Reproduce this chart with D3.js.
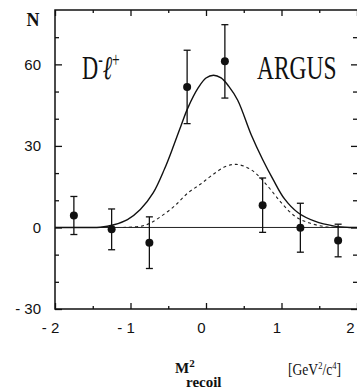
<!DOCTYPE html>
<html>
<head>
<meta charset="utf-8">
<script src="https://cdn.jsdelivr.net/npm/d3@7"></script>
<style>
  body { margin: 0; background: #fff; }
  svg { display: block; }
  .tick text { font-family: 'Liberation Sans', sans-serif; font-size: 15px; fill: #111; }
  .serif { font-family: 'Liberation Serif', 'DejaVu Serif', serif; fill: #111; }
</style>
</head>
<body>
<script>
// measured points: recoil mass bins (centre), counts, errors
const binCentres = [-1.75, -1.25, -0.75, -0.25, 0.25, 0.75, 1.25, 1.75];
const counts = [4.4, -0.7, -5.6, 51.7, 61.1, 8.2, -0.1, -4.8];
const errors = [7, 7.5, 9.5, 13.5, 13.5, 10, 9, 6];

// fit curves
const fitX = [-2, -1.6, -1.4, -1.22, -1.04, -0.87, -0.7, -0.55, -0.45, -0.33, -0.24, -0.1, 0, 0.1, 0.2, 0.3, 0.42, 0.6, 0.75, 0.89, 1.04, 1.22, 1.44, 1.7, 1.9, 2];
const fitY = [0, 0, 0.1, 1, 2.9, 6.6, 12.7, 21.5, 28.5, 37.5, 44, 51.5, 55, 56, 55, 52, 46.8, 34, 25, 17.6, 10.5, 5.4, 2.3, 0.5, 0, 0];
const dashX = [-1.1, -0.85, -0.73, -0.6, -0.42, -0.24, -0.07, 0.07, 0.25, 0.4, 0.6, 0.82, 1.0, 1.18, 1.36, 1.58, 1.8];
const dashY = [0, 0.5, 1.7, 4, 7.8, 12.7, 16, 19, 22.3, 23.2, 21.2, 15.1, 9.0, 4.1, 1.7, 0.3, 0];

const xMajor = [-2, -1, 0, 1, 2];
const xMinor = [-1.5, -0.5, 0.5, 1.5];
const yMajor = [-30, 0, 30, 60];
const yMinor = [-20, -10, 10, 20, 40, 50, 70];

const width = 357;
const height = 390;
const margin = { left: 55, right: 357, top: 10, bottom: 309 };

const x = d3.scaleLinear().domain([-2, 2]).range([margin.left, margin.right]);
const y = d3.scaleLinear().domain([-30, 80]).range([margin.bottom, margin.top]);

const svg = d3.select('body').append('svg')
  .attr('width', width)
  .attr('height', height);

const fmt = (d) => d < 0 ? '- ' + Math.abs(d) : String(d);

// axes: ticks point inward
function addAxis (axis, transform, labels) {
  const g = svg.append('g').attr('transform', transform).call(axis);
  g.select('.domain').remove();
  g.selectAll('line').attr('stroke', '#111').attr('stroke-width', 1.3);
  if (!labels) g.selectAll('text').remove();
  return g;
}

addAxis(d3.axisBottom(x).tickValues(xMajor).tickSize(-6).tickPadding(13).tickFormat(fmt), `translate(0,${margin.bottom})`, true)
  .selectAll('text').attr('dx', (d) => d === 2 ? '-7' : '-5');
addAxis(d3.axisBottom(x).tickValues(xMinor).tickSize(-3), `translate(0,${margin.bottom})`, false);
addAxis(d3.axisTop(x).tickValues(xMajor).tickSize(-6), `translate(0,${margin.top})`, false);
addAxis(d3.axisTop(x).tickValues(xMinor).tickSize(-3), `translate(0,${margin.top})`, false);

addAxis(d3.axisLeft(y).tickValues(yMajor).tickSize(-7).tickPadding(14).tickFormat(fmt), `translate(${margin.left},0)`, true);
addAxis(d3.axisLeft(y).tickValues(yMinor).tickSize(-4), `translate(${margin.left},0)`, false);
addAxis(d3.axisRight(y).tickValues(yMajor).tickSize(-6), `translate(${margin.right},0)`, false);
addAxis(d3.axisRight(y).tickValues(yMinor).tickSize(-4), `translate(${margin.right},0)`, false);

// frame (right side falls outside the picture)
svg.append('path')
  .attr('d', `M${margin.right},${margin.top}H${margin.left}V${margin.bottom}H${margin.right}`)
  .attr('fill', 'none').attr('stroke', '#111').attr('stroke-width', 1.5);

// zero line
svg.append('line')
  .attr('x1', margin.left).attr('x2', margin.right)
  .attr('y1', y(0)).attr('y2', y(0))
  .attr('stroke', '#222').attr('stroke-width', 1);

const line = d3.line().curve(d3.curveCatmullRom.alpha(0.5));

svg.append('path')
  .attr('d', line(fitX.map((d, i) => [x(d), y(fitY[i])])))
  .attr('fill', 'none').attr('stroke', '#111').attr('stroke-width', 1.4);

svg.append('path')
  .attr('d', line(dashX.map((d, i) => [x(d), y(dashY[i])])))
  .attr('fill', 'none').attr('stroke', '#222').attr('stroke-width', 1.1)
  .attr('stroke-dasharray', '3,3');

// data points with error bars
const pts = svg.append('g').selectAll('g')
  .data(binCentres.map((d, i) => ({ x: d, n: counts[i], e: errors[i] })))
  .enter().append('g');

pts.append('line')
  .attr('x1', (d) => x(d.x)).attr('x2', (d) => x(d.x))
  .attr('y1', (d) => y(d.n + d.e)).attr('y2', (d) => y(d.n - d.e))
  .attr('stroke', '#111').attr('stroke-width', 1.3);
[1, -1].forEach((s) => {
  pts.append('line')
    .attr('x1', (d) => x(d.x) - 3.5).attr('x2', (d) => x(d.x) + 3.5)
    .attr('y1', (d) => y(d.n + s * d.e)).attr('y2', (d) => y(d.n + s * d.e))
    .attr('stroke', '#111').attr('stroke-width', 1.3);
});
pts.append('circle')
  .attr('cx', (d) => x(d.x)).attr('cy', (d) => y(d.n))
  .attr('r', 4).attr('fill', '#111');

// labels
svg.append('text').attr('class', 'serif')
  .attr('x', 33).attr('y', 26).attr('text-anchor', 'middle')
  .attr('font-size', 18).attr('font-weight', 'bold').text('N');

const dl = svg.append('text').attr('class', 'serif')
  .attr('transform', 'translate(82,79) scale(0.68,1)')
  .attr('font-size', 33);
dl.append('tspan').text('D');
dl.append('tspan').attr('font-size', 20).attr('dy', -13).text('-');
dl.append('tspan').attr('font-style', 'italic').attr('dy', 13).text('ℓ');
dl.append('tspan').attr('font-size', 20).attr('dy', -12).text('+');

svg.append('text').attr('class', 'serif')
  .attr('transform', 'translate(257,79) scale(0.69,1)')
  .attr('font-size', 34).text('ARGUS');

const m = svg.append('text').attr('class', 'serif')
  .attr('x', 175).attr('y', 373).attr('font-size', 15).attr('font-weight', 'bold');
m.append('tspan').text('M');
m.append('tspan').attr('font-size', 11).attr('dy', -6).text('2');
svg.append('text').attr('class', 'serif')
  .attr('x', 186).attr('y', 387).attr('font-size', 15).attr('font-weight', 'bold')
  .text('recoil');

const u = svg.append('text').attr('class', 'serif')
  .attr('transform', 'translate(288,375) scale(0.85,1)')
  .attr('font-size', 16);
u.append('tspan').text('[GeV');
u.append('tspan').attr('font-size', 10).attr('dy', -6).text('2');
u.append('tspan').attr('dy', 6).text('/c');
u.append('tspan').attr('font-size', 10).attr('dy', -6).text('4');
u.append('tspan').attr('dy', 6).text(']');
</script>
</body>
</html>
